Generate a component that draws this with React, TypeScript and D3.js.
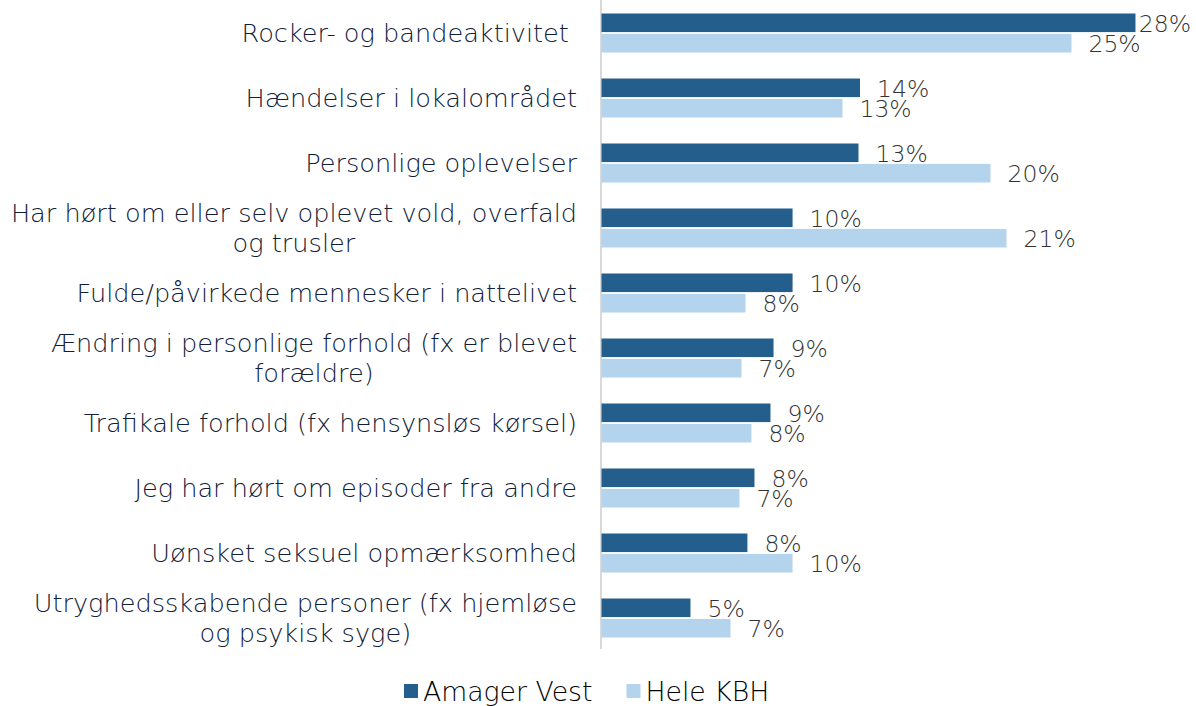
import React, { useEffect, useRef } from "react";
import * as d3 from "d3";

const categories: string[][] = [
  ["Rocker- og bandeaktivitet "],
  ["Hændelser i lokalområdet"],
  ["Personlige oplevelser"],
  ["Har hørt om eller selv oplevet vold, overfald", "og trusler"],
  ["Fulde/påvirkede mennesker i nattelivet"],
  ["Ændring i personlige forhold (fx er blevet", "forældre)"],
  ["Trafikale forhold (fx hensynsløs kørsel)"],
  ["Jeg har hørt om episoder fra andre"],
  ["Uønsket seksuel opmærksomhed"],
  ["Utryghedsskabende personer (fx hjemløse", "og psykisk syge)"],
];

const amagerVest = [28.03, 13.57, 13.49, 10.03, 10.03, 9.03, 8.87, 8.03, 7.66, 4.67];
const heleKBH = [24.67, 12.65, 20.42, 21.26, 7.56, 7.35, 7.87, 7.24, 10.03, 6.77];
const amagerLabels = ["28%", "14%", "13%", "10%", "10%", "9%", "9%", "8%", "8%", "5%"];
const heleLabels = ["25%", "13%", "20%", "21%", "8%", "7%", "8%", "7%", "10%", "7%"];

const seriesNames = ["Amager Vest", "Hele KBH"];
const seriesColors = ["#245e8c", "#b4d3ec"];

const W = 1196;
const H = 706;
const FONT = "'DejaVu Sans', 'Open Sans', sans-serif";

export default function App() {
  const ref = useRef<SVGSVGElement | null>(null);

  useEffect(() => {
    const svg = d3.select(ref.current);
    svg.selectAll("*").remove();

    const x = d3.scaleLinear().domain([0, 30]).range([601.5, 601.5 + 19.05 * 30]);
    const idx = categories.map((_, i) => String(i));
    const y = d3.scaleBand().domain(idx).range([0.5, 650.5]).paddingInner(0.4).paddingOuter(0.2);
    const ys = d3.scaleBand().domain(seriesNames).range([0, y.bandwidth()]).paddingInner(0.09);

    const data = [amagerVest, heleKBH];
    const labels = [amagerLabels, heleLabels];

    svg
      .append("line")
      .attr("x1", 601)
      .attr("x2", 601)
      .attr("y1", 0)
      .attr("y2", 649)
      .attr("stroke", "#d9d9d9")
      .attr("stroke-width", 2);

    seriesNames.forEach((s, si) => {
      svg
        .append("g")
        .selectAll("rect")
        .data(data[si])
        .join("rect")
        .attr("x", x(0))
        .attr("y", (_, i) => (y(String(i)) as number) + (ys(s) as number))
        .attr("width", (d) => x(d) - x(0))
        .attr("height", ys.bandwidth())
        .attr("fill", seriesColors[si]);
    });

    seriesNames.forEach((s, si) => {
      const g = svg.append("g");
      data[si].forEach((v, i) => {
        const t = g
          .append("text")
          .attr("x", x(v) + 17)
          .attr("y", (y(String(i)) as number) + (ys(s) as number) + ys.bandwidth() / 2 + 1)
          .attr("dominant-baseline", "central")
          .attr("font-family", FONT)
          .attr("font-size", 23.5)
          .attr("font-weight", 200)
          .attr("fill", "#333333")
          .text(labels[si][i]);
        const node = t.node() as SVGTextElement;
        const w = node.getComputedTextLength();
        if (x(v) + 17 + w > W - 5) {
          t.attr("x", Math.max(x(v) + 2, W - 5 - w));
        }
      });
    });

    const cg = svg.append("g");
    categories.forEach((lines, i) => {
      const cy = (y(String(i)) as number) + y.bandwidth() / 2;
      const t = cg
        .append("text")
        .attr("font-family", FONT)
        .attr("font-size", 25.6)
        .attr("font-weight", 200)
        .attr("fill", "#0f2038")
        .attr("text-anchor", "middle")
        .style("white-space", "pre");
      const lh = 30;
      lines.forEach((ln, li) => {
        t.append("tspan")
          .attr("y", cy + (li - (lines.length - 1) / 2) * lh)
          .attr("dominant-baseline", "central")
          .text(ln);
      });
      const tspans = t.selectAll("tspan").nodes() as SVGTextContentElement[];
      const maxW = d3.max(tspans, (n) => n.getComputedTextLength()) || 0;
      const right = 577;
      tspans.forEach((n) => d3.select(n).attr("x", right - maxW / 2));
    });

    const lg = svg.append("g");
    let lx = 404;
    seriesNames.forEach((s, si) => {
      lg.append("rect")
        .attr("x", lx)
        .attr("y", 684)
        .attr("width", 14)
        .attr("height", 14)
        .attr("fill", seriesColors[si]);
      const t = lg
        .append("text")
        .attr("x", lx + 19)
        .attr("y", 691)
        .attr("dominant-baseline", "central")
        .attr("font-family", FONT)
        .attr("font-size", 26.7)
        .attr("font-weight", 200)
        .attr("fill", "#000000")
        .text(s);
      const w = (t.node() as SVGTextElement).getComputedTextLength();
      lx = lx + 19 + w + 34;
    });
  }, []);

  return (
    <svg
      ref={ref}
      width={W}
      height={H}
      style={{ position: "absolute", left: 0, top: 0, background: "#fff" }}
    />
  );
}
